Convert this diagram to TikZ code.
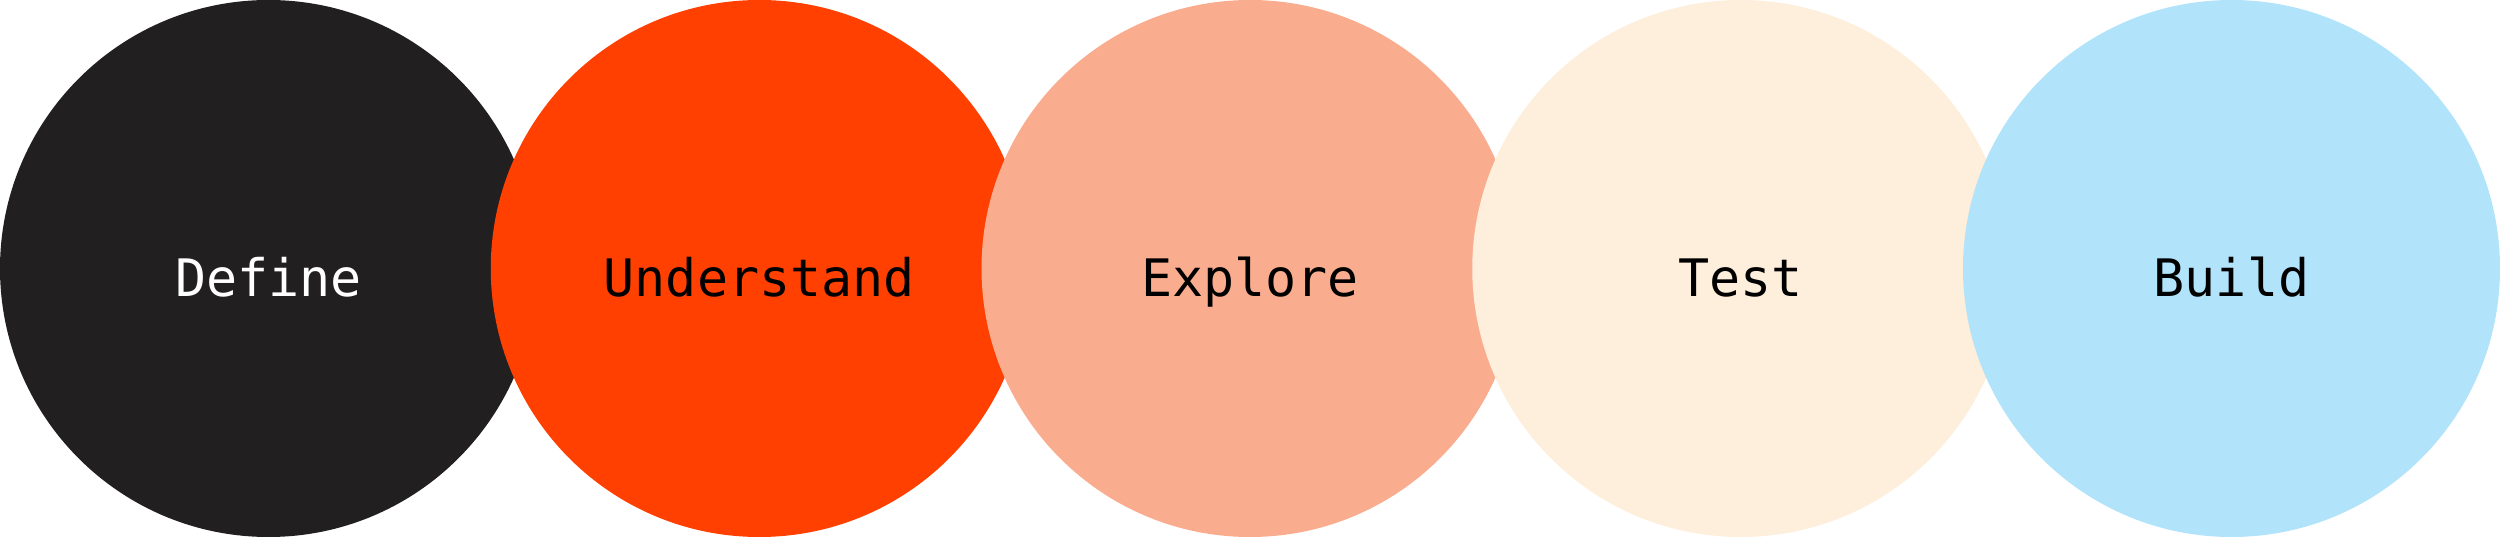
\documentclass[tikz,border=0pt]{standalone}
\usepackage{fontspec}
\setmonofont{DejaVu Sans Mono}
\definecolor{defineblack}{HTML}{221F20}
\definecolor{understandorange}{HTML}{FF4000}
\definecolor{exploresalmon}{HTML}{F9AC8E}
\definecolor{testcream}{HTML}{FEEEDC}
\definecolor{buildblue}{HTML}{B1E3FA}
\begin{document}
\begin{tikzpicture}[font=\ttfamily\fontsize{14.7}{17}\selectfont,
    phase/.style={circle, inner sep=0pt, minimum size=5.37cm}]
  \useasboundingbox (0,0) rectangle (25,5.37);
  % the five phases, each one laid over the one before
  \foreach \n/\x/\col/\txt/\tcol in {define/2.685/defineblack/Define/white,
      understand/7.5925/understandorange/Understand/black,
      explore/12.5/exploresalmon/Explore/black,
      test/17.4075/testcream/Test/black,
      build/22.315/buildblue/Build/black} {
    \node[phase, fill=\col] (\n) at (\x,2.685) {};
    \node[anchor=base, text=\tcol, inner sep=0pt] (\n-label) at ([yshift=-2.85mm]\n.center) {\txt};
  }
\end{tikzpicture}
\end{document}
